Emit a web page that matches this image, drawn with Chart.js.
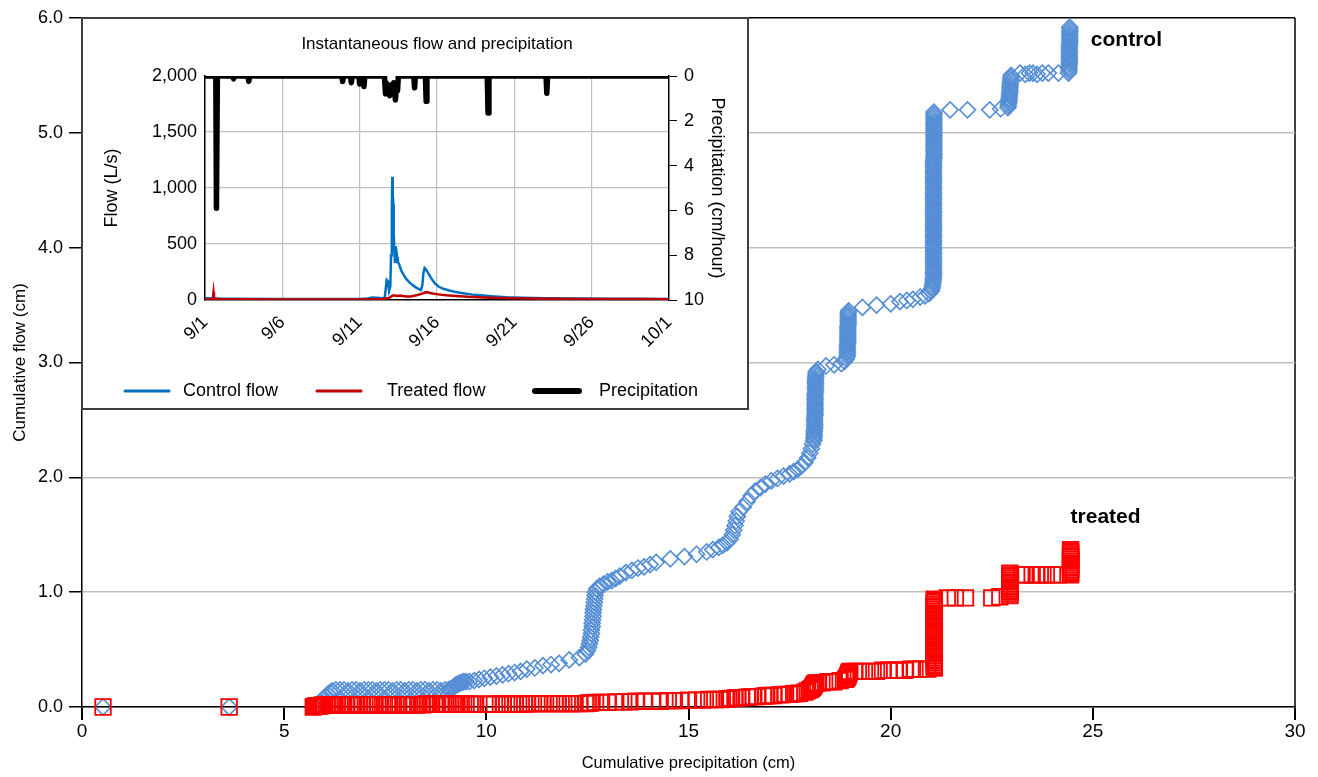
<!DOCTYPE html>
<html>
<head>
<meta charset="utf-8">
<script src="https://cdn.jsdelivr.net/npm/chart.js@4.4.1/dist/chart.umd.min.js"></script>
<style>
  html, body { margin: 0; padding: 0; background: #fff; }
  #wrap { position: relative; width: 1318px; height: 777px; }
  #mainChart { position: absolute; left: 0; top: 0; }
  #inset { position: absolute; left: 81px; top: 17px; width: 668px; height: 393px;
           box-sizing: border-box; border: 2px solid #404040; background: #fff; }
  #insetChart { display: block; }
</style>
</head>
<body>
<div id="wrap">
  <canvas id="mainChart" width="1318" height="777"></canvas>
  <div id="inset"><canvas id="insetChart" width="664" height="389"></canvas></div>
</div>
<script>
// ---- main chart data: [cumulative precipitation (cm), cumulative flow (cm)] ----
const controlPoints = [
  [0.52,0],[3.64,0],
  [5.78,0.00],[5.84,0.03],[5.9,0.05],[5.96,0.07],[6.02,0.09],[6.08,0.11],[6.14,0.13],[6.2,0.14],[6.28,0.15],
  [6.38,0.15],[6.48,0.15],[6.58,0.14],[6.68,0.15],[6.78,0.15],[6.88,0.14],[6.98,0.15],[7.08,0.15],[7.18,0.15],
  [7.28,0.14],[7.38,0.15],[7.48,0.15],[7.58,0.15],[7.68,0.14],[7.78,0.15],[7.88,0.15],[7.98,0.14],[8.08,0.15],
  [8.18,0.15],[8.28,0.14],[8.38,0.15],[8.48,0.15],[8.58,0.14],[8.68,0.15],[8.78,0.15],[8.88,0.14],[8.98,0.15],[9.06,0.15],
  [9.1,0.155],[9.14,0.16],[9.18,0.17],[9.21,0.18],[9.24,0.19],[9.27,0.195],[9.3,0.2],[9.33,0.205],[9.36,0.21],
  [9.4,0.215],[9.44,0.22],[9.5,0.22],[9.58,0.22],
  [9.7,0.23],[9.82,0.24],[9.95,0.25],[10.1,0.26],[10.25,0.27],[10.4,0.28],[10.55,0.29],[10.7,0.3],[10.85,0.31],
  [11.0,0.33],[11.2,0.34],[11.4,0.36],[11.6,0.37],[11.8,0.38],[12.05,0.41],[12.3,0.43],[12.45,0.46],
  [12.5,0.49],[12.53,0.52],[12.55,0.55],[12.57,0.58],[12.58,0.61],[12.6,0.64],[12.6,0.67],[12.62,0.7],[12.62,0.73],
  [12.63,0.76],[12.64,0.79],[12.64,0.82],[12.65,0.85],[12.66,0.88],[12.67,0.91],[12.68,0.94],[12.69,0.97],[12.7,1.0],[12.73,1.03],
  [12.8,1.05],[12.9,1.07],[13.0,1.09],[13.1,1.1],[13.2,1.12],[13.3,1.14],
  [13.45,1.17],[13.6,1.19],[13.75,1.21],[13.9,1.22],[14.05,1.24],[14.2,1.26],
  [14.55,1.29],[14.9,1.31],[15.2,1.33],[15.45,1.35],[15.6,1.37],[15.75,1.39],
  [15.85,1.41],[15.95,1.43],[16.03,1.46],[16.08,1.5],[16.12,1.54],[16.15,1.58],[16.18,1.62],[16.21,1.66],[16.25,1.7],
  [16.35,1.74],[16.45,1.79],[16.55,1.84],[16.65,1.88],[16.78,1.91],
  [16.9,1.94],[17.05,1.97],[17.2,1.99],[17.35,2.01],
  [17.5,2.03],[17.6,2.05],[17.7,2.07],[17.8,2.1],[17.88,2.13],[17.95,2.17],[18.0,2.21],[18.04,2.25],[18.07,2.29],
  [18.1,2.32],[18.1,2.34],[18.11,2.36],[18.11,2.38],[18.11,2.4],[18.12,2.42],[18.12,2.44],[18.12,2.46],[18.12,2.48],
  [18.12,2.5],[18.12,2.52],[18.13,2.54],[18.13,2.56],[18.13,2.58],[18.13,2.6],[18.13,2.62],[18.13,2.64],[18.13,2.66],
  [18.13,2.68],[18.13,2.7],[18.13,2.72],[18.14,2.74],[18.14,2.76],[18.14,2.78],[18.14,2.8],[18.14,2.82],[18.14,2.84],
  [18.14,2.86],[18.15,2.88],[18.15,2.9],[18.16,2.92],
  [18.2,2.94],[18.4,2.97],[18.6,2.98],[18.78,2.99],
  [18.86,3.01],[18.9,3.03],[18.92,3.05],[18.93,3.07],[18.93,3.09],[18.93,3.11],[18.93,3.13],[18.93,3.15],[18.94,3.17],
  [18.94,3.19],[18.94,3.21],[18.94,3.23],[18.94,3.25],[18.94,3.27],[18.94,3.29],[18.94,3.31],[18.95,3.33],[18.95,3.35],
  [18.95,3.37],[18.95,3.39],[18.95,3.41],[18.95,3.43],[18.96,3.45],
  [19.3,3.48],[19.65,3.5],[20.0,3.51],[20.23,3.53],[20.4,3.54],[20.55,3.55],[20.73,3.57],[20.85,3.58],[20.95,3.6],
  [21.0,3.62],[21.02,3.64],[21.03,3.66],[21.04,3.68],[21.05,3.7],[21.05,3.72],[21.06,3.74],[21.06,3.76],[21.06,3.78],
  [21.06,3.8],[21.06,3.82],[21.06,3.84],[21.06,3.86],[21.06,3.88],[21.06,3.9],[21.06,3.92],[21.06,3.94],[21.06,3.96],
  [21.06,3.98],[21.06,4.0],[21.06,4.02],[21.06,4.04],[21.06,4.06],[21.06,4.08],[21.06,4.1],[21.06,4.12],[21.06,4.14],
  [21.06,4.16],[21.06,4.18],[21.06,4.2],[21.06,4.22],[21.06,4.24],[21.06,4.26],[21.06,4.28],[21.06,4.3],[21.06,4.32],
  [21.06,4.34],[21.06,4.36],[21.06,4.38],[21.06,4.4],[21.06,4.42],[21.06,4.44],[21.06,4.46],[21.06,4.48],[21.06,4.5],
  [21.06,4.52],[21.06,4.54],[21.06,4.56],[21.06,4.58],[21.06,4.6],[21.06,4.62],[21.06,4.64],[21.06,4.66],[21.06,4.68],
  [21.06,4.7],[21.06,4.72],[21.06,4.74],[21.06,4.76],[21.07,4.78],[21.07,4.8],[21.07,4.82],[21.07,4.84],[21.07,4.86],
  [21.07,4.88],[21.07,4.9],[21.07,4.92],[21.07,4.94],[21.07,4.96],[21.07,4.98],[21.07,5.0],[21.07,5.02],[21.07,5.04],
  [21.07,5.06],[21.07,5.08],[21.07,5.1],[21.07,5.12],[21.07,5.14],[21.07,5.16],[21.07,5.18],
  [21.47,5.2],[21.9,5.2],[22.45,5.2],[22.72,5.21],
  [22.9,5.22],[22.91,5.24],[22.92,5.26],[22.93,5.28],[22.93,5.3],[22.94,5.32],[22.94,5.34],[22.95,5.36],[22.95,5.38],
  [22.95,5.4],[22.96,5.42],[22.96,5.44],[22.97,5.46],[22.97,5.48],[22.98,5.5],
  [23.2,5.52],[23.33,5.51],[23.43,5.52],[23.52,5.52],[23.62,5.51],[23.75,5.52],[23.9,5.52],[24.15,5.52],
  [24.4,5.52],[24.41,5.54],[24.41,5.56],[24.41,5.58],[24.42,5.6],[24.42,5.62],[24.42,5.64],[24.42,5.66],[24.42,5.68],
  [24.42,5.7],[24.42,5.72],[24.42,5.74],[24.42,5.76],[24.43,5.78],[24.43,5.8],[24.43,5.82],[24.43,5.84],[24.43,5.86],
  [24.43,5.88],[24.43,5.9],[24.43,5.92]
];

const treatedPoints = [
  [0.52,0],[3.64,0],
  [5.72,0.0],[5.75,0.005],[5.78,0.01],[5.81,0.01],[5.84,0.01],[5.87,0.01],[5.9,0.01],[5.93,0.015],[5.96,0.015],
  [6.0,0.015],[6.05,0.015],[6.12,0.015],[6.2,0.02],[6.26,0.02],
  [6.32,0.02],[6.38,0.02],[6.45,0.02],[6.55,0.02],[6.62,0.02],[6.7,0.02],[6.8,0.02],[6.86,0.02],[6.92,0.02],[7.05,0.02],
  [7.1,0.02],[7.15,0.02],[7.25,0.02],[7.32,0.02],[7.38,0.02],[7.48,0.02],[7.55,0.02],[7.6,0.02],[7.7,0.02],[7.76,0.02],
  [7.82,0.02],[7.95,0.02],[8.0,0.02],[8.05,0.02],[8.15,0.02],[8.22,0.02],[8.3,0.02],[8.42,0.02],[8.48,0.025],[8.55,0.025],
  [8.65,0.025],[8.72,0.025],[8.78,0.025],[8.9,0.025],[8.95,0.025],[9.0,0.025],[9.12,0.025],[9.18,0.025],[9.25,0.025],
  [9.38,0.025],[9.44,0.025],[9.5,0.025],[9.6,0.025],[9.66,0.025],[9.72,0.025],
  [10.05,0.025],[10.12,0.025],[10.2,0.025],[10.35,0.025],[10.42,0.025],[10.5,0.025],[10.65,0.025],[10.72,0.025],[10.8,0.025],
  [10.95,0.025],[11.02,0.03],[11.1,0.03],[11.25,0.03],[11.32,0.03],[11.4,0.03],[11.55,0.03],[11.7,0.03],[11.78,0.03],
  [11.85,0.03],[12.0,0.03],[12.08,0.03],[12.15,0.03],[12.3,0.03],[12.45,0.03],[12.52,0.035],[12.58,0.035],
  [12.7,0.04],[12.85,0.04],[13.0,0.04],[13.2,0.045],[13.4,0.045],[13.55,0.045],[13.7,0.05],[13.9,0.05],[14.1,0.05],
  [14.3,0.05],[14.5,0.055],[14.65,0.055],[14.8,0.055],[15.0,0.06],[15.2,0.06],[15.35,0.06],[15.5,0.065],[15.65,0.065],[15.8,0.065],
  [15.95,0.07],[16.0,0.072],[16.05,0.075],[16.15,0.08],[16.22,0.08],[16.3,0.08],[16.45,0.085],[16.52,0.088],[16.6,0.09],
  [16.7,0.09],[16.85,0.095],[16.92,0.098],[17.0,0.1],[17.1,0.1],[17.25,0.105],[17.32,0.108],[17.4,0.11],[17.5,0.11],
  [17.6,0.115],[17.68,0.118],[17.75,0.12],
  [17.88,0.13],[17.94,0.14],[18.0,0.15],[18.04,0.16],[18.07,0.17],[18.09,0.18],[18.1,0.19],[18.12,0.2],[18.15,0.21],[18.2,0.21],
  [18.3,0.21],[18.45,0.22],[18.6,0.22],[18.75,0.23],
  [18.88,0.24],[18.91,0.25],[18.93,0.26],[18.94,0.27],[18.95,0.28],[18.96,0.29],[18.97,0.3],[18.99,0.31],
  [19.1,0.31],[19.2,0.31],[19.35,0.31],[19.5,0.31],[19.65,0.31],[19.8,0.32],[19.95,0.32],[20.1,0.32],[20.2,0.32],
  [20.35,0.32],[20.5,0.33],[20.6,0.33],[20.75,0.33],[20.92,0.33],
  [21.08,0.34],[21.08,0.355],[21.08,0.37],[21.08,0.385],[21.08,0.4],[21.08,0.415],[21.08,0.43],[21.08,0.445],[21.08,0.46],
  [21.08,0.475],[21.08,0.49],[21.08,0.505],[21.08,0.52],[21.08,0.535],[21.08,0.55],[21.08,0.565],[21.08,0.58],[21.08,0.595],
  [21.08,0.61],[21.08,0.625],[21.08,0.64],[21.08,0.655],[21.08,0.67],[21.08,0.685],[21.08,0.7],[21.08,0.715],[21.08,0.73],
  [21.08,0.745],[21.08,0.76],[21.08,0.775],[21.08,0.79],[21.08,0.805],[21.08,0.82],[21.08,0.835],[21.08,0.85],[21.08,0.865],
  [21.08,0.88],[21.08,0.895],[21.08,0.91],[21.08,0.925],[21.08,0.94],
  [21.4,0.95],[21.6,0.95],[21.85,0.95],[22.5,0.95],[22.7,0.96],
  [22.95,0.97],[22.95,0.985],[22.95,1.0],[22.95,1.015],[22.95,1.03],[22.95,1.045],[22.95,1.06],[22.95,1.075],[22.95,1.09],
  [22.95,1.105],[22.95,1.12],[22.95,1.135],[22.95,1.15],[22.95,1.165],
  [23.25,1.15],[23.35,1.15],[23.5,1.15],[23.6,1.15],[23.7,1.15],[23.85,1.15],[24.0,1.15],[24.15,1.15],
  [24.45,1.15],[24.45,1.165],[24.45,1.18],[24.45,1.195],[24.45,1.21],[24.45,1.225],[24.45,1.24],[24.45,1.255],[24.45,1.27],
  [24.45,1.285],[24.45,1.3],[24.45,1.315],[24.45,1.33],[24.45,1.345],[24.45,1.36],[24.45,1.37]
];

const seriesNotes = [
  { text: 'control', x: 24.95, y: 5.81 },
  { text: 'treated', x: 24.45, y: 1.65 }
];

// ---- inset data: [days since 9/1, value] ----
const dateTicks = [0, 5, 10, 15, 20, 25, 30];
const dateLabels = ['9/1', '9/6', '9/11', '9/16', '9/21', '9/26', '10/1'];

const controlFlow = [
  [0,15],[0.6,14],[1,12],[2,11],[4,10],[6,9],[8,9],[10,10],[10.5,14],[10.8,22],[11.1,20],[11.5,15],[11.62,20],
  [11.7,120],[11.75,180],[11.82,170],[11.9,80],[11.98,120],[12.03,400],[12.08,800],[12.11,1100],[12.14,850],[12.17,860],
  [12.2,600],[12.25,420],[12.28,330],[12.31,380],[12.34,480],[12.37,380],[12.4,330],[12.43,380],[12.47,340],[12.55,320],
  [12.62,290],[12.7,260],[12.86,220],[13.0,190],[13.2,160],[13.4,135],[13.6,115],[13.8,100],[13.96,90],[14.05,130],
  [14.12,240],[14.2,285],[14.3,270],[14.45,235],[14.6,200],[14.85,150],[15.1,120],[15.4,100],[15.8,85],[16.2,72],
  [16.8,58],[17.3,48],[18,40],[18.5,34],[19.5,25],[20.5,20],[22,16],[24,14],[26,12],[28,11],[30,10]
];

const treatedFlow = [
  [0,6],[0.5,6],[0.55,70],[0.58,30],[0.62,10],[1,8],[5,5],[10,5],[11.5,8],[11.8,15],[12.0,25],[12.1,38],[12.2,42],
  [12.4,35],[12.6,40],[12.8,35],[13,32],[13.3,32],[13.6,40],[13.9,50],[14.1,60],[14.3,70],[14.5,65],[14.8,55],
  [15.2,48],[15.6,42],[16,38],[16.5,33],[17,28],[18,22],[19,18],[20,15],[22,12],[25,10],[28,8],[30,7]
];

const precipitation = [
  [0,0],[0.7,0],[0.74,5.9],[0.8,0],[1.8,0],[1.85,0.13],[1.9,0],[2.78,0],[2.83,0.24],[2.88,0],[8.85,0],[8.9,0.25],
  [8.95,0],[9.4,0],[9.46,0.3],[9.52,0],[9.95,0],[10.0,0.36],[10.05,0],[10.22,0.2],[10.28,0.47],[10.33,0],[11.6,0],
  [11.67,0.8],[11.72,0.3],[11.8,0.6],[11.94,0.88],[12.0,0.4],[12.14,0.73],[12.2,0.3],[12.31,1.07],[12.38,0.4],
  [12.45,0.65],[12.5,0],[13.5,0],[13.55,0.53],[13.6,0],[14.25,0],[14.3,1.13],[14.35,0],[18.25,0],[18.3,1.65],
  [18.36,0],[22.05,0],[22.1,0.77],[22.15,0],[30,0]
];

const ARIAL = "'Liberation Sans', Arial, sans-serif";
const CLEAR = 'rgba(0,0,0,0)';

Chart.defaults.font.family = ARIAL;
Chart.defaults.color = '#000';

const toXY = pts => pts.map(([x, y]) => ({ x, y }));

// text labels next to the two series
const seriesNotePlugin = {
    id: 'seriesNotes',
    afterDatasetsDraw(chart) {
        const { ctx, scales } = chart;
        ctx.save();
        ctx.font = "bold 21px " + ARIAL;
        ctx.fillStyle = '#000';
        ctx.textAlign = 'left';
        ctx.textBaseline = 'middle';
        seriesNotes.forEach(n => {
            ctx.fillText(n.text, scales.x.getPixelForValue(n.x), scales.y.getPixelForValue(n.y));
        });
        ctx.restore();
    }
};

new Chart(document.getElementById('mainChart'), {
    type: 'scatter',
    data: {
        datasets: [
            {
                label: 'treated',
                data: toXY(treatedPoints),
                pointStyle: 'rect',
                pointRadius: 11,
                borderColor: '#FF0000',
                borderWidth: 1.8,
                backgroundColor: CLEAR,
                clip: false,
                order: 0
            },
            {
                label: 'control',
                data: toXY(controlPoints),
                pointStyle: 'rectRot',
                pointRadius: 8,
                borderColor: '#558ED5',
                borderWidth: 1.6,
                backgroundColor: CLEAR,
                clip: false,
                order: 1
            }
        ]
    },
    options: {
        responsive: false,
        animation: false,
        layout: { padding: { top: 18, right: 23, left: 0, bottom: 0 } },
        plugins: { legend: { display: false }, tooltip: { enabled: false } },
        scales: {
            x: {
                type: 'linear',
                min: 0, max: 30,
                afterFit: s => { s.height = 70; },
                border: { color: '#000', width: 1.5 },
                grid: {
                    color: c => (c.tick && c.tick.value === 30) ? '#404040' : CLEAR,
                    lineWidth: 2,
                    tickColor: '#000',
                    tickLength: 13
                },
                ticks: { stepSize: 5, padding: 0, maxRotation: 0, font: { size: 19 } },
                title: {
                    display: true,
                    text: 'Cumulative precipitation (cm)',
                    font: { size: 16.5 },
                    padding: { bottom: 4 }
                }
            },
            y: {
                min: 0, max: 6,
                afterFit: s => { s.width = 82; },
                border: { color: '#000', width: 1.5 },
                grid: {
                    color: c => (c.tick && c.tick.value === 6) ? '#000' : '#BFBFBF',
                    lineWidth: 1.5,
                    tickColor: '#000',
                    tickLength: 13
                },
                ticks: { stepSize: 1, padding: 6, callback: v => v.toFixed(1), font: { size: 18 } },
                title: {
                    display: true,
                    text: 'Cumulative flow (cm)',
                    font: { size: 17 },
                    padding: { top: 10 }
                }
            }
        }
    },
    plugins: [seriesNotePlugin]
});

// inset title and legend, placed like the original
const insetTitle = 'Instantaneous flow and precipitation';
const insetTextPlugin = {
    id: 'insetText',
    afterDraw(chart) {
        const { ctx, chartArea } = chart;
        ctx.save();
        ctx.fillStyle = '#000';
        ctx.font = "17px " + ARIAL;
        ctx.textAlign = 'center';
        ctx.textBaseline = 'middle';
        ctx.fillText(insetTitle, (chartArea.left + chartArea.right) / 2, 25);

        const slots = [[42, 100], [234, 304], [452, 516]];
        const y = 372;
        ctx.textAlign = 'left';
        ctx.font = "18px " + ARIAL;
        chart.data.datasets.forEach((ds, i) => {
            const [lx, tx] = slots[i];
            ctx.strokeStyle = ds.borderColor;
            ctx.lineWidth = ds.borderWidth + 0.5;
            ctx.lineCap = 'round';
            ctx.beginPath();
            ctx.moveTo(lx, y);
            ctx.lineTo(lx + 44, y);
            ctx.stroke();
            ctx.fillText(ds.label, tx, y);
        });
        ctx.restore();
    }
};

new Chart(document.getElementById('insetChart'), {
    type: 'line',
    data: {
        datasets: [
            { label: 'Control flow', data: toXY(controlFlow), borderColor: '#0070C0', borderWidth: 2.5, yAxisID: 'y', order: 2 },
            { label: 'Treated flow', data: toXY(treatedFlow), borderColor: '#C00000', borderWidth: 2.5, yAxisID: 'y', order: 1 },
            { label: 'Precipitation', data: toXY(precipitation), borderColor: '#000', borderWidth: 5.5, yAxisID: 'y2', order: 0,
              borderJoinStyle: 'round', borderCapStyle: 'round' }
        ]
    },
    options: {
        responsive: false,
        animation: false,
        elements: { point: { radius: 0 }, line: { tension: 0 } },
        layout: { padding: { top: 57, bottom: 48, left: 0, right: 0 } },
        plugins: { legend: { display: false }, tooltip: { enabled: false }, title: { display: false } },
        scales: {
            x: {
                type: 'linear',
                min: 0, max: 30,
                afterFit: s => { s.height = 60; },
                afterBuildTicks: s => { s.ticks = dateTicks.map(v => ({ value: v })); },
                border: { color: '#000', width: 1.5 },
                grid: {
                    color: c => (c.tick && (c.tick.value === 0 || c.tick.value === 30)) ? CLEAR : '#BFBFBF',
                    lineWidth: 1.2,
                    drawTicks: false
                },
                ticks: {
                    minRotation: 45, maxRotation: 45, padding: 12, autoSkip: false,
                    callback: v => dateLabels[dateTicks.indexOf(v)],
                    font: { size: 18 }
                }
            },
            y: {
                position: 'left',
                min: 0, max: 2000,
                afterFit: s => { s.width = 122; },
                border: { color: '#000', width: 1.5 },
                grid: {
                    color: c => (c.tick && (c.tick.value === 0 || c.tick.value === 2000)) ? CLEAR : '#BFBFBF',
                    lineWidth: 1.2,
                    drawTicks: false
                },
                ticks: { stepSize: 500, padding: 8, callback: v => v.toLocaleString('en-US'), font: { size: 18 } },
                title: { display: true, text: 'Flow (L/s)', font: { size: 18 }, padding: { top: 18 } }
            },
            y2: {
                position: 'right',
                min: 0, max: 10,
                reverse: true,
                afterFit: s => { s.width = 78; },
                border: { color: '#000', width: 1.5 },
                grid: { drawOnChartArea: false, tickLength: 8, tickColor: '#000' },
                ticks: { stepSize: 2, padding: 7, font: { size: 18 } },
                title: { display: true, text: 'Precipitation (cm/hour)', font: { size: 18 }, padding: { top: 19 } }
            }
        }
    },
    plugins: [insetTextPlugin]
});
</script>
</body>
</html>
